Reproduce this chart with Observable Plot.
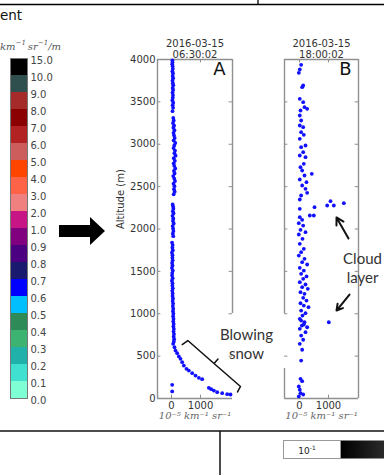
<!DOCTYPE html>
<html><head><meta charset="utf-8">
<script src="https://cdn.jsdelivr.net/npm/d3@7"></script>
<script src="https://cdn.jsdelivr.net/npm/@observablehq/plot@0.6"></script>
<style>
html,body{margin:0;padding:0;background:#fff;}
#root{position:relative;width:384px;height:475px;overflow:hidden;background:#fff;font-family:"DejaVu Sans",sans-serif;}
.abs{position:absolute;}
</style></head>
<body><div id="root"></div>
<script>
// ---- colour bar ----
const cbLabels = ["0.0","0.1","0.2","0.3","0.4","0.5","0.6","0.7","0.8","0.9","1.0","2.0","3.0","4.0","5.0","6.0","7.0","8.0","9.0","10.0","15.0"];
const cbColors = ["#7fffd4","#40e0d0","#20b2aa","#3cb371","#2e8b57","#00bfff","#0000ff","#191970","#4b0082","#800080","#c71585","#f08080","#ff6347","#ff4500","#cd5c5c","#b22222","#8b0000","#a52a2a","#2f4f4f","#000000"];

// ---- panel A: 2016-03-15 06:30:02 ----
const altA = [3990,3965,3945,3920,3890,3860,3835,3805,3780,3750,3720,3695,3665,3640,3610,3580,3550,3520,3490,3460,3430,3390,3310,3280,3250,3220,3195,3165,3135,3105,3075,3045,3015,2985,2955,2925,2895,2865,2835,2805,2775,2745,2715,2685,2655,2625,2595,2565,2535,2505,2470,2440,2410,2290,2265,2240,2210,2185,2155,2125,2095,2065,2035,2005,1975,1945,1915,1840,1810,1780,1750,1720,1690,1660,1630,1600,1570,1540,1510,1480,1450,1420,1390,1360,1330,1300,1270,1240,1210,1180,1150,1120,1090,1060,1030,1000,970,940,910,880,850,820,790,760,730,700,670,
  645,605,566,535,496,468,429,389,350,330,299,271,244,228,126,110,94,75,63,51,47,161,83];
const valA = [30,35,25,40,45,30,50,40,55,35,45,60,40,55,35,50,45,30,60,40,55,35,60,75,50,90,65,100,70,85,110,75,130,95,70,120,100,140,80,115,75,95,130,85,105,60,95,120,70,100,85,110,75,40,55,65,45,70,35,60,50,75,40,55,65,45,60,20,40,30,45,15,35,30,40,20,35,15,45,25,20,40,15,35,30,45,25,40,35,50,40,55,45,60,50,65,55,70,60,75,65,80,70,85,75,90,80,
  57,103,138,195,253,310,368,425,517,598,713,828,943,1057,1287,1368,1460,1575,1747,1920,2034,24,24];

// ---- panel B: 2016-03-15 18:00:02 ----
const altB = [3937,3882,3843,3693,3673,3536,3496,3437,3418,3398,3339,3280,3221,3201,3142,3111,3064,2985,2965,2906,2867,2847,2769,2729,2690,2651,2631,2584,2552,2513,2474,2427,2395,2348,2238,
  2139,2108,2069,2041,1990,1963,1935,1884,1825,1766,1727,1687,1648,1609,1581,1542,1510,1471,1440,1412,1372,1345,1313,1294,1254,1235,1188,1156,1124,1097,1077,1038,1007,979,940,900,861,841,
  920,873,822,783,743,693,645,575,448,232,204,142,103,63,47,24,
  2277,2328,2277,2305,2257,2159,2159,900];
const valB = [57,10,-24,127,92,10,127,172,264,34,10,57,10,127,57,149,10,207,57,127,10,207,149,34,92,425,172,10,241,92,207,264,57,10,10,
  10,92,-24,127,34,207,-24,103,10,149,57,-24,172,92,264,10,149,57,241,127,10,207,92,287,34,172,127,241,34,149,310,57,207,103,10,172,80,264,
  57,149,10,207,57,127,10,92,57,34,92,-24,10,34,127,-24,
  954,1069,1184,1529,517,494,356,1011];

const yTicks = [0,500,1000,1500,2000,2500,3000,3500,4000];
const xTicks = [0,1000];

const root = document.getElementById("root");
function place(el, left, top){ el.classList.add("abs"); el.style.left = left+"px"; el.style.top = top+"px"; root.appendChild(el); return el; }

// decorations (figure furniture around the plots)
const deco = document.createElementNS("http://www.w3.org/2000/svg","svg");
deco.setAttribute("width",384); deco.setAttribute("height",475);
deco.innerHTML = `
<defs><linearGradient id="g" x1="0" x2="1"><stop offset="0" stop-color="#000"/><stop offset="1" stop-color="#2a2a2a"/></linearGradient></defs>
<line x1="0" x2="384" y1="4.5" y2="4.5" stroke="#000" stroke-width="1.3"/>
<line x1="258" x2="258" y1="0" y2="5" stroke="#000" stroke-width="1.3"/>
<polygon points="59,225 90,225 90,217 105,231 90,245 90,237 59,237" fill="#000"/>
<line x1="0" x2="384" y1="431" y2="431" stroke="#111" stroke-width="1.5"/>
<line x1="220" x2="220" y1="431" y2="475" stroke="#111" stroke-width="1.5"/>
<rect x="283.5" y="440.5" width="57" height="18" fill="#fff" stroke="#999"/>
<text x="307" y="453.5" font-size="9" text-anchor="middle" fill="#222" font-family="DejaVu Sans">10<tspan dy="-4" font-size="6">-1</tspan></text>
<rect x="341" y="440.5" width="43" height="18" fill="url(#g)"/>`;
place(deco,0,0);

const t1 = document.createElement("div");
t1.textContent = "ent"; t1.style.fontSize="13.5px"; t1.style.color="#111"; t1.style.fontFamily="DejaVu Sans";
place(t1,0,7);
const t2 = document.createElement("div");
t2.innerHTML = "km<sup>−1</sup>&thinsp;sr<sup>−1</sup>/m";
t2.style.cssText="font-size:10px;font-style:italic;font-family:'DejaVu Serif',serif;color:#555;white-space:nowrap;line-height:1;";
t2.querySelectorAll("sup").forEach(s=>{s.style.fontSize="7px";s.style.verticalAlign="5px";});
place(t2,0,40);

// colour bar
const cbData = cbColors.map((c,i)=>({lo:i, hi:i+1, color:c}));
const cbTickData = cbLabels.map((l,i)=>({i, l}));
const cb = Plot.plot({
  width:62, height:360, marginLeft:10, marginRight:35, marginTop:8, marginBottom:12,
  x:{domain:[0,1], axis:null}, y:{domain:[0,20], axis:null},
  style:{background:"transparent", fontFamily:"DejaVu Sans", fontSize:"10px", color:"#444"},
  marks:[
    Plot.rect(cbData,{x1:0,x2:1,y1:"lo",y2:"hi",fill:"color"}),
    Plot.frame({stroke:"#777", strokeWidth:1}),
    Plot.text(cbTickData,{x:1,y:"i",text:"l",textAnchor:"start",dx:3,dy:2,fill:"#444",fontSize:10})
  ]
});
place(cb,0,50);

function panel(opts){
  const {alt,val,xDomain,mLeft,width,title,letter,showY,leftSegs,rightSegs,extra} = opts;
  const pts = alt.map((a,i)=>({alt:a, v:val[i]}));
  const x0 = xDomain[0], x1 = xDomain[1];
  const segL = leftSegs.map(s=>({a:s[0],b:s[1]}));
  const segR = rightSegs.map(s=>({a:s[0],b:s[1]}));
  const fc = "#8f8f8f";
  const marks = [
    Plot.ruleY([0],{stroke:fc,strokeWidth:1.4}),
    Plot.ruleY([4000],{stroke:fc,strokeWidth:1.4}),
    Plot.ruleX(segL,{x:()=>x0,y1:"a",y2:"b",stroke:fc,strokeWidth:1.4}),
    Plot.ruleX(segR,{x:()=>x1,y1:"a",y2:"b",stroke:fc,strokeWidth:1.4}),
    Plot.ruleY(yTicks.slice(1,-1),{x1:x0,x2:x0+(x1-x0)*0.045,stroke:fc}),
    Plot.ruleY(yTicks.slice(1,-1),{x1:x1,x2:x1-(x1-x0)*0.045,stroke:fc}),
    Plot.ruleX(xTicks,{y1:0,y2:40,stroke:fc}),
    Plot.ruleX(xTicks,{y1:4000,y2:3960,stroke:fc}),
    Plot.axisX(xTicks,{tickSize:0,tickPadding:3,fontSize:10,fill:"#333",label:null,tickFormat:d=>String(d)}),
    Plot.dot(pts,{x:"v",y:"alt",r:1.9,fill:"#1111ff",stroke:"none"}),
    Plot.text([title],{frameAnchor:"top",lineAnchor:"bottom",dy:-2,lineHeight:1.1,fontSize:10,fill:"#333"}),
    Plot.text([letter],{frameAnchor:"top-right",lineAnchor:"top",textAnchor:"end",dx:-7,dy:3,fontSize:18,fill:"#111"}),
    Plot.text(["10⁻⁵ km⁻¹ sr⁻¹"],{frameAnchor:"bottom",dy:20,fontSize:10,fill:"#666",fontFamily:"DejaVu Serif",fontStyle:"italic"})
  ];
  if (showY){
    marks.push(Plot.axisY(yTicks,{tickSize:0,tickPadding:2,fontSize:10,fill:"#333",label:null,tickFormat:d=>String(d)}));
    marks.push(Plot.text(["Altitude (m)"],{frameAnchor:"left",dx:-37,rotate:-90,fontSize:10,fill:"#333"}));
  }
  if (extra) marks.push(...extra);
  return Plot.plot({
    width, height:410, marginLeft:mLeft, marginRight:width-mLeft-(opts.frameW), marginTop:29, marginBottom:42,
    x:{domain:xDomain, axis:null}, y:{domain:[0,4000], axis:null},
    style:{background:"transparent", fontFamily:"DejaVu Sans", fontSize:"10px", color:"#333", overflow:"visible"},
    marks
  });
}

// annotation: blowing-snow bracket (panel A data space)
const bracket = [{v:369,a:637},{v:562,a:684},{v:1466,a:413},{v:1603,a:466},{v:1466,a:413},{v:2379,a:142},{v:2276,a:77}];
const pA = panel({
  alt:altA, val:valA, xDomain:[-483,2103], mLeft:57, width:150, frameW:75,
  title:"2016-03-15\n06:30:02", letter:"A", showY:true,
  leftSegs:[[0,4000]], rightSegs:[[1003,4000]],
  extra:[Plot.line(bracket,{x:"v",y:"a",stroke:"#111",strokeWidth:1.5})]
});
place(pA,100,30);

const cloudArrows = [{x1:1690,y1:1888,x2:1276,y2:2136},{x1:1724,y1:1227,x2:1276,y2:1038}];
const pB = panel({
  alt:altB, val:valB, xDomain:[-517,2034], mLeft:84, width:184, frameW:74,
  title:"2016-03-15\n18:00:02", letter:"B", showY:false,
  leftSegs:[[0,354],[1003,4000]], rightSegs:[[0,4000]],
  extra:[
    Plot.arrow(cloudArrows,{x1:"x1",y1:"y1",x2:"x2",y2:"y2",stroke:"#111",strokeWidth:2,headLength:7}),
    Plot.text(["Cloud\nlayer"],{x:2172,y:1546,fontSize:15,lineHeight:1.27,fill:"#333",fontFamily:"Lato"}),
    Plot.text(["Blowing\nsnow"],{x:-1828,y:649,fontSize:15,lineHeight:1.3,fill:"#333",fontFamily:"Lato"})
  ]
});
place(pB,200,30);
</script></body></html>
